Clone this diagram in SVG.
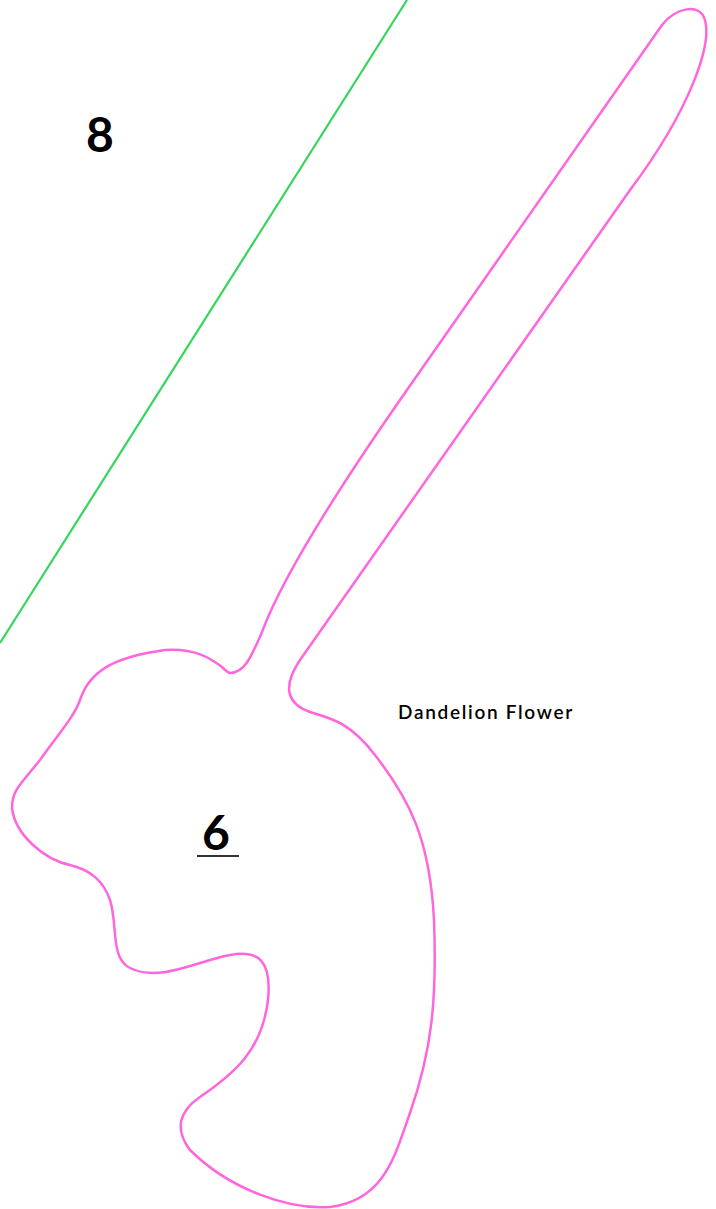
<svg xmlns="http://www.w3.org/2000/svg" width="716" height="1209" viewBox="0 0 716 1209">
<style>
.lbl{font-family:Lato,"Noto Sans","Liberation Sans",sans-serif;font-weight:600;fill:#000}
.big{font-size:48px;font-weight:700}
.small{font-size:19px;letter-spacing:1.7px}
</style>
<rect width="716" height="1209" fill="#fff"/>
<g id="connectors">
<line x1="407" y1="0" x2="0" y2="643" stroke="#33d65a" stroke-width="2.2"/>
</g>
<g id="dandelion">
<path d="M230,673 C245,673 252,655 262,632 C285,570 350,472 400,400 L662,25 C675,8 700,2 705,20 C712,45 690,110 630,190 L300,660 C280,690 290,705 310,712 C330,718 350,722 375,755 C410,800 430,840 434,920 C437,1000 432,1050 410,1113 C395,1155 385,1200 330,1207 C290,1210 230,1190 190,1150 C175,1130 178,1112 200,1097 C235,1073 262,1050 268,1000 C272,960 258,950 230,955 C200,960 160,983 130,968 C110,958 118,925 110,900 C103,880 90,870 70,865 C45,860 15,835 12,808 C12,790 20,785 40,760 C60,732 75,715 80,700 C90,670 115,657 165,650 C195,648 210,658 222,667 C225,670 228,673 230,673 Z" fill="none" stroke="#ff66dd" stroke-width="2.5"/>
<text class="lbl small" x="398" y="719">Dandelion Flower</text>
</g>
<g id="label-8">
<text class="lbl big" x="100" y="152" text-anchor="middle">8</text>
</g>
<g id="label-6">
<text class="lbl big" x="216" y="850" text-anchor="middle">6</text>
<line x1="197" y1="856" x2="239" y2="856" stroke="#333" stroke-width="2"/>
</g>
</svg>
